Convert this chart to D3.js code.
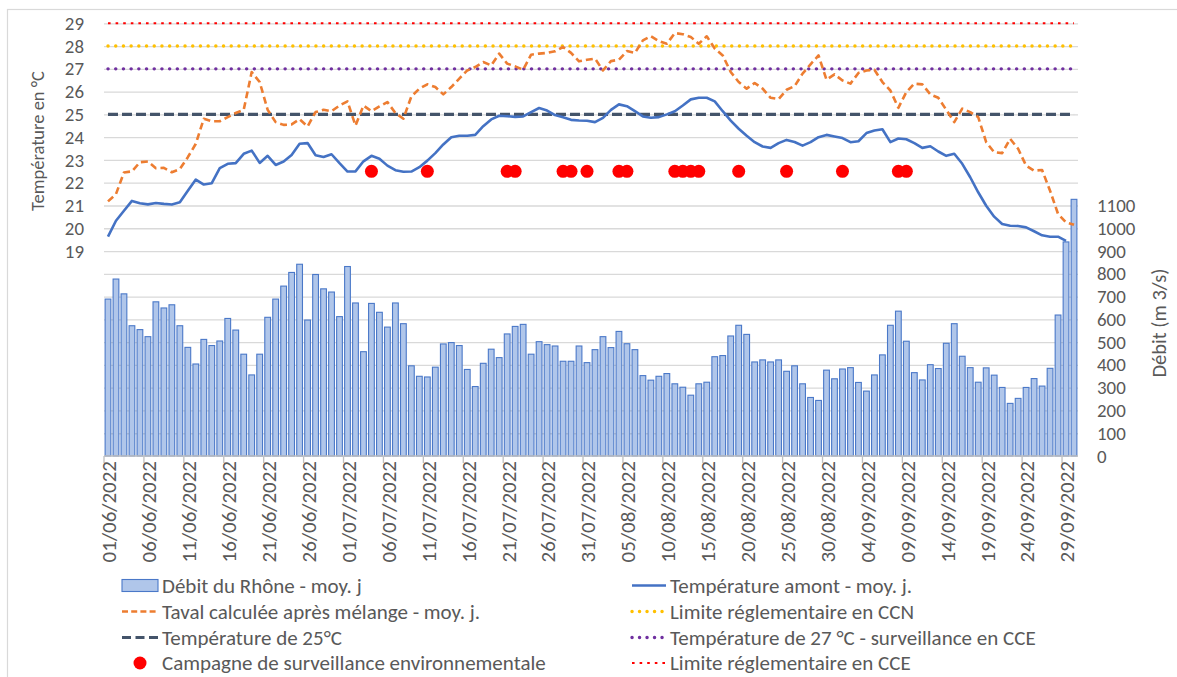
<!DOCTYPE html>
<html>
<head>
<meta charset="utf-8">
<script src="https://cdn.jsdelivr.net/npm/d3@7"></script>
<style>
  html, body { margin: 0; padding: 0; background: #fff; }
  svg text { font-family: Carlito, Calibri, Lato, "Open Sans", sans-serif; fill: #595959; }
</style>
</head>
<body>
<svg id="chart" width="1177" height="677"></svg>
<script>
// Débit journalier moyen du Rhône (m3/s), 01/06/2022 -> 30/09/2022
const debit = [
  689, 777, 712, 572, 555, 524, 677, 650, 664, 572,
  477, 404, 512, 485, 505, 604, 553, 447, 356, 447,
  609, 689, 746, 806, 842, 597, 797, 734, 720, 612,
  832, 672, 458, 670, 631, 566, 672, 581, 396, 350,
  347, 390, 492, 498, 485, 380, 305, 407, 469, 432,
  536, 569, 578, 447, 502, 489, 483, 416, 416, 483,
  410, 467, 524, 476, 547, 493, 467, 353, 333, 350,
  362, 317, 302, 267, 317, 324, 436, 441, 527, 574,
  534, 413, 422, 413, 422, 372, 396, 317, 257, 244,
  377, 339, 382, 388, 323, 285, 356, 444, 574, 636,
  504, 366, 334, 401, 384, 495, 581, 438, 388, 324,
  387, 355, 301, 231, 253, 301, 340, 307, 385, 619,
  940, 1127
];

// Température amont - moyenne journalière (°C); pas de mesure le 30/09
const tempAmont = [
  19.63, 20.33, 20.77, 21.20, 21.10, 21.05, 21.11, 21.07, 21.04, 21.14,
  21.65, 22.14, 21.92, 21.98, 22.64, 22.83, 22.86, 23.27, 23.41, 22.87,
  23.18, 22.78, 22.93, 23.22, 23.71, 23.74, 23.21, 23.13, 23.25, 22.86,
  22.49, 22.50, 22.94, 23.18, 23.05, 22.75, 22.55, 22.48, 22.49, 22.68,
  22.97, 23.30, 23.68, 24.00, 24.06, 24.06, 24.10, 24.48, 24.78, 24.94,
  24.92, 24.89, 24.91, 25.10, 25.28, 25.17, 24.97, 24.87, 24.76, 24.73,
  24.72, 24.66, 24.85, 25.20, 25.44, 25.36, 25.14, 24.91, 24.85, 24.88,
  25.00, 25.14, 25.39, 25.66, 25.73, 25.73, 25.57, 25.14, 24.73, 24.37,
  24.06, 23.78, 23.59, 23.53, 23.74, 23.88, 23.79, 23.63, 23.78, 24.00,
  24.10, 24.03, 23.96, 23.78, 23.82, 24.18, 24.29, 24.35, 23.78, 23.94,
  23.91, 23.74, 23.53, 23.60, 23.37, 23.18, 23.27, 22.83, 22.24, 21.58,
  20.99, 20.51, 20.19, 20.11, 20.10, 20.04, 19.87, 19.69, 19.63, 19.63,
  19.45, null
];

// Taval calculée après mélange - moyenne journalière (°C)
const taval = [
  21.18, 21.50, 22.45, 22.50, 22.90, 22.93, 22.64, 22.65, 22.46, 22.60,
  23.12, 23.71, 24.81, 24.70, 24.70, 24.88, 25.06, 25.20, 26.86, 26.42,
  25.20, 24.66, 24.54, 24.56, 24.79, 24.47, 25.10, 25.20, 25.14, 25.39,
  25.57, 24.51, 25.39, 25.14, 25.35, 25.54, 25.06, 24.81, 25.79, 26.13,
  26.32, 26.20, 25.88, 26.20, 26.57, 26.93, 27.08, 27.30, 27.15, 27.67,
  27.23, 27.11, 26.96, 27.62, 27.67, 27.70, 27.77, 27.96, 27.70, 27.33,
  27.40, 27.45, 26.93, 27.34, 27.40, 27.78, 27.70, 28.25, 28.43, 28.22,
  28.10, 28.57, 28.52, 28.40, 28.10, 28.43, 27.89, 27.59, 26.86, 26.42,
  26.13, 26.38, 26.13, 25.73, 25.67, 26.08, 26.24, 26.79, 27.20, 27.59,
  26.52, 26.76, 26.49, 26.35, 26.82, 26.93, 26.96, 26.42, 26.05, 25.29,
  25.98, 26.35, 26.32, 25.88, 25.73, 25.20, 24.66, 25.25, 25.10, 24.88,
  23.78, 23.34, 23.30, 23.93, 23.49, 22.75, 22.53, 22.56, 21.65, 20.63,
  20.26, 20.15
];

// Jours de campagne de surveillance environnementale
const campagneDates = [
  "04/07/2022", "11/07/2022", "21/07/2022", "22/07/2022", "28/07/2022",
  "29/07/2022", "31/07/2022", "04/08/2022", "05/08/2022", "11/08/2022",
  "12/08/2022", "13/08/2022", "14/08/2022", "19/08/2022", "25/08/2022",
  "01/09/2022", "08/09/2022", "09/09/2022"
];
const campagneLevel = 22.5;

// Seuils de température (°C)
const seuil25 = 25;
const seuil27 = 27;
const limiteCCN = 28;
const limiteCCE = 29;

// Graduations
const dateTickLabels = [
  "01/06/2022", "06/06/2022", "11/06/2022", "16/06/2022", "21/06/2022",
  "26/06/2022", "01/07/2022", "06/07/2022", "11/07/2022", "16/07/2022",
  "21/07/2022", "26/07/2022", "31/07/2022", "05/08/2022", "10/08/2022",
  "15/08/2022", "20/08/2022", "25/08/2022", "30/08/2022", "04/09/2022",
  "09/09/2022", "14/09/2022", "19/09/2022", "24/09/2022", "29/09/2022"
];
const tempTicks = [19, 20, 21, 22, 23, 24, 25, 26, 27, 28, 29];
const debitTicks = [0, 100, 200, 300, 400, 500, 600, 700, 800, 900, 1000, 1100];
const debitGrid = [100, 200, 300, 400, 500, 600, 700, 800, 900, 1000,
                   1100, 1200, 1300, 1400, 1500, 1600, 1700, 1800, 1900];

// ---------------------------------------------------------------------------
const fmt = d3.timeFormat("%d/%m/%Y");
const days = d3.timeDay.range(new Date(2022, 5, 1), new Date(2022, 9, 1)).map(fmt);

const svg = d3.select("#chart");
const W = 1177, H = 677;
const plot = { left: 104, right: 1078, top: 23.3, bottom: 456 };
const FS = 21;          // dates et légende
const FS_NUM = 18.9;    // graduations numériques
const FS_TL = 18.5;     // titre axe gauche
const FS_TR = 20.5;     // titre axe droit

const x = d3.scaleBand().domain(days).range([plot.left, plot.right])
  .paddingInner(0.28).paddingOuter(0.14);
const step = x.step();
const cx = d => x(d) + x.bandwidth() / 2;
const edge = d => x(d) - (step - x.bandwidth()) / 2;

const yT = d3.scaleLinear().domain([10, 29]).range([plot.bottom, plot.top]);
const yQ = d3.scaleLinear().domain([0, 1900]).range([plot.bottom, plot.top]);

// cadre
svg.append("rect").attr("x", 7.5).attr("y", 9.5).attr("width", W).attr("height", H)
  .attr("fill", "none").attr("stroke", "#d9d9d9").attr("stroke-width", 1.2);

// quadrillage
svg.append("g").attr("transform", `translate(${plot.left},0)`)
  .call(d3.axisLeft(yQ).tickValues(debitGrid).tickSize(-(plot.right - plot.left)).tickFormat(""))
  .call(g => g.select(".domain").remove())
  .call(g => g.selectAll("line").attr("stroke", "#d9d9d9").attr("stroke-width", 1.3));

// barres du débit
svg.append("g").selectAll("rect").data(days).join("rect")
  .attr("x", d => x(d))
  .attr("width", x.bandwidth())
  .attr("y", (d, i) => yQ(debit[i]))
  .attr("height", (d, i) => yQ(0) - yQ(debit[i]))
  .attr("fill", "#b0c6ea")
  .attr("stroke", "#4a78c8")
  .attr("stroke-width", 1.1);

// axe des dates
const xa = svg.append("g");
xa.append("line").attr("x1", plot.left).attr("x2", plot.right)
  .attr("y1", plot.bottom).attr("y2", plot.bottom)
  .attr("stroke", "#bfbfbf").attr("stroke-width", 1.3);
xa.selectAll("line.tick").data(dateTickLabels).join("line").attr("class", "tick")
  .attr("x1", d => edge(d)).attr("x2", d => edge(d))
  .attr("y1", plot.bottom).attr("y2", plot.bottom + 7)
  .attr("stroke", "#bfbfbf").attr("stroke-width", 1.3);
xa.selectAll("text").data(dateTickLabels).join("text")
  .attr("transform", d => `translate(${cx(d) + 1},${plot.bottom + 5}) rotate(-90)`)
  .attr("text-anchor", "end").attr("dy", "0.35em")
  .style("font-size", FS + "px")
  .text(d => d);

// axe des températures (gauche)
svg.append("g").attr("transform", `translate(${plot.left - 20},0)`)
  .call(d3.axisLeft(yT).tickValues(tempTicks).tickSize(0).tickPadding(0))
  .call(g => g.select(".domain").remove())
  .call(g => g.selectAll("text").style("font-size", FS_NUM + "px").attr("fill", "#595959"));

// axe du débit (droite)
svg.append("g").attr("transform", `translate(${plot.right + 19},0)`)
  .call(d3.axisRight(yQ).tickValues(debitTicks).tickSize(0).tickPadding(0).tickFormat(d3.format("d")))
  .call(g => g.select(".domain").remove())
  .call(g => g.selectAll("text").style("font-size", FS_NUM + "px").attr("fill", "#595959"));

// titres des axes
svg.append("text").attr("transform", "translate(38,141) rotate(-90)")
  .attr("text-anchor", "middle").attr("dy", "0.35em").style("font-size", FS_TL + "px")
  .text("Température en °C");
svg.append("text").attr("transform", "translate(1159,323) rotate(-90)")
  .attr("text-anchor", "middle").attr("dy", "0.35em").style("font-size", FS_TR + "px")
  .text("Débit (m 3/s)");

// seuils horizontaux
const flat = v => d3.line().x(d => cx(d)).y(() => yT(v));
const seuils = [
  { v: limiteCCE, color: "#ff0000", w: 2,   dash: "2.6 5", cap: "butt" },
  { v: limiteCCN, color: "#ffc000", w: 3.4, dash: "0.1 7.6", cap: "round" },
  { v: seuil27,   color: "#7030a0", w: 3.4, dash: "0.1 7.6", cap: "round" },
  { v: seuil25,   color: "#44546a", w: 3.2, dash: "10 4", cap: "butt" }
];
seuils.forEach(s => {
  svg.append("path").datum(days).attr("d", flat(s.v))
    .attr("fill", "none").attr("stroke", s.color).attr("stroke-width", s.w)
    .attr("stroke-dasharray", s.dash).attr("stroke-linecap", s.cap);
});

// température amont
svg.append("path").datum(days)
  .attr("d", d3.line().defined((d, i) => tempAmont[i] != null)
    .x(d => cx(d)).y((d, i) => yT(tempAmont[i])))
  .attr("fill", "none").attr("stroke", "#4472c4").attr("stroke-width", 2.6)
  .attr("stroke-linejoin", "round");

// Taval
svg.append("path").datum(days)
  .attr("d", d3.line().x(d => cx(d)).y((d, i) => yT(taval[i])))
  .attr("fill", "none").attr("stroke", "#ed7d31").attr("stroke-width", 2.6)
  .attr("stroke-dasharray", "7 4").attr("stroke-linejoin", "round");

// campagnes
svg.append("g").selectAll("circle").data(campagneDates).join("circle")
  .attr("cx", d => cx(d)).attr("cy", yT(campagneLevel)).attr("r", 6.5)
  .attr("fill", "#ff0000");

// légende
const legend = svg.append("g");
const rows = [585.5, 611.5, 637.5, 663];
const colL = { x0: 122, x1: 158, tx: 162 };
const colR = { x0: 632, x1: 666, tx: 670 };
const addText = (c, r, t) => legend.append("text").attr("x", c.tx).attr("y", rows[r])
  .attr("dy", "0.35em").style("font-size", FS + "px").text(t);
const addLine = (c, r, color, w, dash, cap) => legend.append("line")
  .attr("x1", c.x0).attr("x2", c.x1).attr("y1", rows[r]).attr("y2", rows[r])
  .attr("stroke", color).attr("stroke-width", w)
  .attr("stroke-dasharray", dash).attr("stroke-linecap", cap || "butt");

legend.append("rect").attr("x", colL.x0).attr("y", rows[0] - 6).attr("width", colL.x1 - colL.x0)
  .attr("height", 12).attr("fill", "#b0c6ea").attr("stroke", "#4a78c8").attr("stroke-width", 1.1);
addText(colL, 0, "Débit du Rhône - moy. j");
addLine(colL, 1, "#ed7d31", 2.4, "6 3.2");
addText(colL, 1, "Taval calculée après mélange - moy. j.");
addLine(colL, 2, "#44546a", 3, "9 4.5");
addText(colL, 2, "Température de 25°C");
legend.append("circle").attr("cx", 140).attr("cy", rows[3]).attr("r", 6.5).attr("fill", "#ff0000");
addText(colL, 3, "Campagne de surveillance environnementale");

addLine(colR, 0, "#4472c4", 2.6, null);
addText(colR, 0, "Température amont - moy. j.");
addLine(colR, 1, "#ffc000", 3.4, "0.1 7.4", "round");
addText(colR, 1, "Limite réglementaire en CCN");
addLine(colR, 2, "#7030a0", 3.4, "0.1 7.4", "round");
addText(colR, 2, "Température de 27 °C - surveillance en CCE");
addLine(colR, 3, "#ff0000", 2, "2.6 5");
addText(colR, 3, "Limite réglementaire en CCE");
</script>
</body>
</html>
